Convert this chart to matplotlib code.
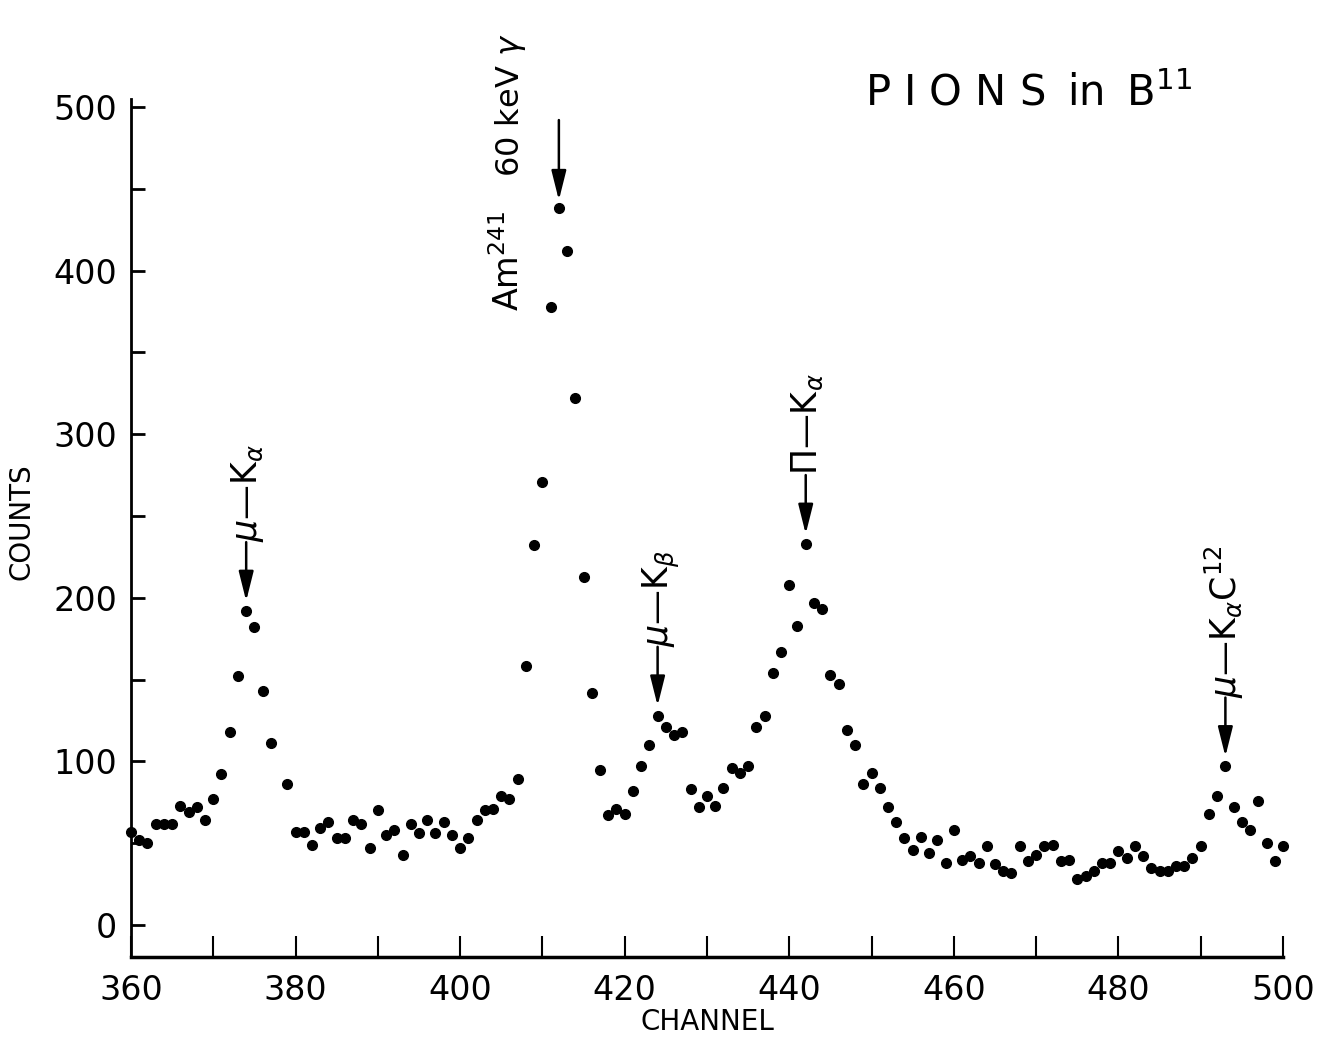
import numpy as np
import matplotlib.pyplot as plt
from matplotlib.ticker import MultipleLocator

# Pulse-height spectrum, one point per channel (channel 378 not recorded)
channels = list(range(360, 501))
counts = [
    57, 52, 50, 62, 62, 62, 73, 69, 72, 64,           # 360-369
    77, 92, 118, 152, 192, 182, 143, 111, np.nan, 86,  # 370-379
    57, 57, 49, 59, 63, 53, 53, 64, 62, 47,           # 380-389
    70, 55, 58, 43, 62, 56, 64, 56, 63, 55,           # 390-399
    47, 53, 64, 70, 71, 79, 77, 89, 158, 232,         # 400-409
    271, 378, 438, 412, 322, 213, 142, 95, 67, 71,    # 410-419
    68, 82, 97, 110, 128, 121, 116, 118, 83, 72,      # 420-429
    79, 73, 84, 96, 93, 97, 121, 128, 154, 167,       # 430-439
    208, 183, 233, 197, 193, 153, 147, 119, 110, 86,  # 440-449
    93, 84, 72, 63, 53, 46, 54, 44, 52, 38,           # 450-459
    58, 40, 42, 38, 48, 37, 33, 32, 48, 39,           # 460-469
    43, 48, 49, 39, 40, 28, 30, 33, 38, 38,           # 470-479
    45, 41, 48, 42, 35, 33, 33, 36, 36, 41,           # 480-489
    48, 68, 79, 97, 72, 63, 58, 76, 50, 39,           # 490-499
    48,                                               # 500
]

# X-ray lines marked with arrows
line_channels = [374, 424, 442, 493]
line_labels = [r'$\mu$—K$_\alpha$', r'$\mu$—K$_\beta$', r'Π—K$_\alpha$',
               r'$\mu$—K$_\alpha$C$^{12}$']
source_channel = 412

fig = plt.figure(figsize=(13.19, 10.39), dpi=100)
ax = fig.add_axes([0.0993, 0.0789, 0.8734, 0.826])

ax.plot(channels, counts, 'o', color='black', markersize=7, clip_on=False)

ax.set_xlim(360, 500)
ax.set_ylim(-19.6, 505)

for side in ['top', 'right']:
    ax.spines[side].set_visible(False)
ax.spines['left'].set_linewidth(2)
ax.spines['bottom'].set_linewidth(2.5)

ax.xaxis.set_major_locator(MultipleLocator(20))
ax.xaxis.set_minor_locator(MultipleLocator(10))
ax.yaxis.set_major_locator(MultipleLocator(100))
ax.yaxis.set_minor_locator(MultipleLocator(50))
ax.tick_params(axis='x', which='both', direction='in', length=15, width=1.5,
               labelsize=24, pad=12)
ax.tick_params(axis='y', which='both', direction='in', length=10, width=2,
               labelsize=24, pad=10)

fig.text(22 / 1319, 1 - 522 / 1039, 'COUNTS', rotation=90,
         ha='center', va='center', fontsize=20)
fig.text(707 / 1319, 1 - 1022 / 1039, 'CHANNEL',
         ha='center', va='center', fontsize=20)
fig.text(865 / 1319, 1 - 105 / 1039, 'P I O N S\u2009 in\u2009 B$^{11}$',
         ha='left', va='baseline', fontsize=30)

arrow_style = dict(arrowstyle='-|>,head_length=0.6,head_width=0.15',
                   color='black', lw=1.8, mutation_scale=30,
                   shrinkA=0, shrinkB=0)


def mark_line(ch, label, gap=6, length=36, size=25):
    tip = counts[channels.index(ch)] + gap
    tail = tip + length
    ax.annotate('', xy=(ch, tip), xytext=(ch, tail), arrowprops=arrow_style)
    ax.annotate(label, xy=(ch, tail), xytext=(8, 0), textcoords='offset points',
                rotation=90, rotation_mode='anchor', ha='left', va='baseline',
                fontsize=size)


for ch, label in zip(line_channels, line_labels):
    mark_line(ch, label)

# Am-241 calibration source line
tip = counts[channels.index(source_channel)] + 5
ax.annotate('', xy=(source_channel, tip), xytext=(source_channel, tip + 49),
            arrowprops=arrow_style)
ax.text(407.1, 375, r'Am$^{241}$', rotation=90, rotation_mode='anchor',
        ha='left', va='baseline', fontsize=24)
ax.text(407.1, 457, r'60 keV $\gamma$', rotation=90, rotation_mode='anchor',
        ha='left', va='baseline', fontsize=23)

fig.savefig('out.png', dpi=100)
